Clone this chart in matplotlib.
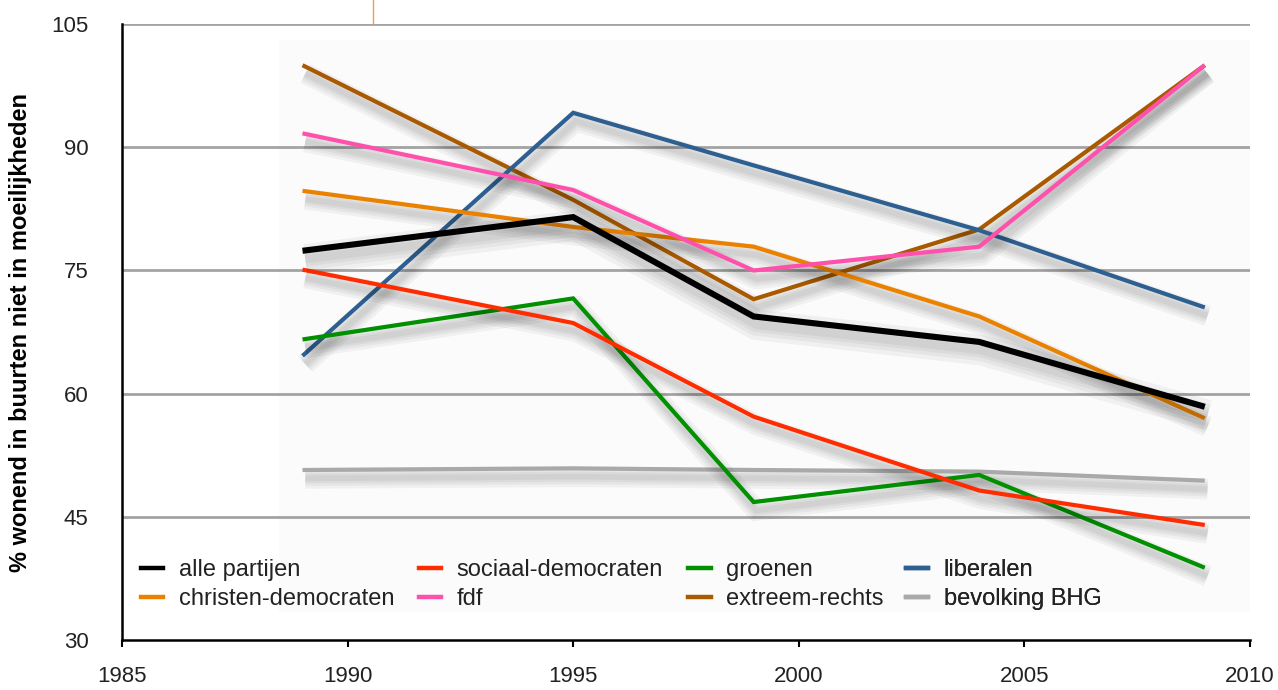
import matplotlib
matplotlib.use("Agg")
import matplotlib.pyplot as plt
import matplotlib.patheffects as pe
from matplotlib.lines import Line2D
from matplotlib.patches import Rectangle

jaren = [1989, 1995, 1999, 2004, 2009]

alle_partijen = [77.4, 81.5, 69.4, 66.3, 58.4]
sociaal_democraten = [75.1, 68.6, 57.2, 48.2, 44.0]
groenen = [66.6, 71.6, 46.8, 50.1, 38.8]
liberalen = [64.6, 94.2, 87.8, 79.9, 70.5]
christen_democraten = [84.7, 80.3, 77.9, 69.4, 57.0]
fdf = [91.7, 84.8, 75.0, 77.9, 100.0]
extreem_rechts = [100.0, 83.6, 71.5, 80.0, 100.0]
bevolking_bhg = [50.7, 50.9, 50.7, 50.5, 49.4]

y_ticks = [30, 45, 60, 75, 90, 105]
x_ticks = [1985, 1990, 1995, 2000, 2005, 2010]

# (label, data, colour, width) - drawn in this order, grey at the back
reeksen = [
    ("bevolking BHG", bevolking_bhg, "#a9a9a9", 3.0),
    ("extreem-rechts", extreem_rechts, "#a95a00", 3.0),
    ("liberalen", liberalen, "#2d5f91", 3.0),
    ("groenen", groenen, "#009000", 3.0),
    ("sociaal-democraten", sociaal_democraten, "#ff2c00", 3.0),
    ("christen-democraten", christen_democraten, "#ea8200", 3.0),
    ("fdf", fdf, "#ff50ac", 3.0),
    ("alle partijen", alle_partijen, "#000000", 4.4),
]
# legend columns as in the original (two entries each)
legend_cols = [["alle partijen", "christen-democraten"],
               ["sociaal-democraten", "fdf"],
               ["groenen", "extreem-rechts"],
               ["liberalen", "bevolking BHG"]]
legend_x = [0.0168, 0.263, 0.502, 0.695]

plt.rcParams['font.family'] = ['Liberation Sans', 'DejaVu Sans']

fig = plt.figure(figsize=(12.78, 6.9), dpi=100)
ax = fig.add_axes([0.0955, 0.0725, 0.8825, 0.8925])

# faint backdrop behind the lines
ax.add_patch(Rectangle((1988.48, 33.4), 21.52, 69.65, facecolor="#fbfbfb",
                       edgecolor="none", zorder=0))

for y in y_ticks[1:]:
    ax.axhline(y, color="#a3a3a3", lw=2, zorder=1)

handles = {}
for naam, data, kleur, lw in reeksen:
    schaduw = [pe.SimpleLineShadow(offset=(2, -6), shadow_color="#000000",
                                   alpha=0.045, linewidth=lw * k)
               for k in (5.0, 3.6, 2.4, 1.4)]
    ax.plot(jaren, data, color=kleur, lw=lw, solid_capstyle="butt",
            solid_joinstyle="miter", zorder=3,
            path_effects=schaduw + [pe.Normal()])
    handles[naam] = Line2D([], [], color=kleur, lw=3.2)

ax.set_xlim(1985, 2010)
ax.set_ylim(30, 105)
ax.set_xticks(x_ticks)
ax.set_yticks(y_ticks)
ax.tick_params(axis="x", direction="out", length=5, width=1.5, pad=14,
               labelsize=16, colors="#000000", labelcolor="#222222")
ax.tick_params(axis="y", length=0, pad=24, labelsize=16, labelcolor="#222222")
for s in ["top", "right"]:
    ax.spines[s].set_visible(False)
ax.spines["left"].set_linewidth(1.8)
ax.spines["bottom"].set_linewidth(1.8)

ax.set_ylabel("% wonend in buurten niet in moeilijkheden", fontsize=17,
              fontweight="bold", labelpad=14)

for kol, xpos in zip(legend_cols, legend_x):
    leg = ax.legend([handles[n] for n in kol], kol, loc="upper left",
                    bbox_to_anchor=(xpos, 0.131), frameon=False, fontsize=17,
                    handlelength=0.95, handletextpad=0.65, labelspacing=0.3,
                    borderpad=0, borderaxespad=0)
    for t in leg.get_texts():
        t.set_color("#222222")
    ax.add_artist(leg)

# stray orange marker line above the chart
fig.add_artist(Line2D([373 / 1278, 373 / 1278], [1 - 24 / 690, 1.0],
                      color="#f0a040", lw=1))

fig.savefig("out.png", dpi=100)
